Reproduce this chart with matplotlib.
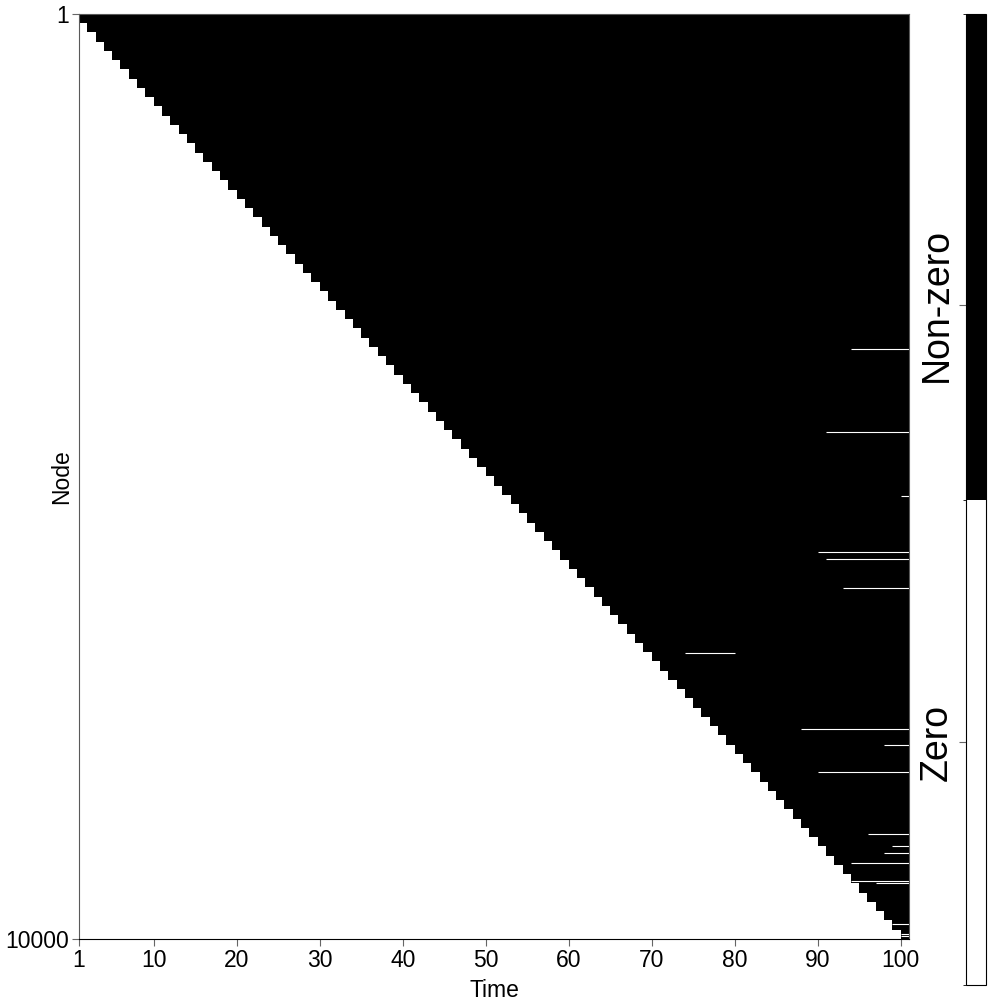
import numpy as np
import matplotlib
matplotlib.use("Agg")
import matplotlib.pyplot as plt
from matplotlib.colors import ListedColormap, BoundaryNorm
from matplotlib.cm import ScalarMappable

plt.rcParams['font.family'] = ['Liberation Sans', 'DejaVu Sans']

n_nodes = 10000
n_times = 100
nodes_per_step = 100   # nodes that switch on at each time step

# zero runs inside the non-zero region: (node, first time, last time)
zero_nodes = [3626, 4520, 5211, 5816, 5892, 6205, 6911, 7733, 7903, 8198,
              8868, 8994, 9073, 9175, 9376, 9398, 9841, 9943, 9964]
zero_start = [94, 91, 100, 90, 91, 93, 74, 88, 98, 90,
              96, 99, 98, 94, 94, 97, 99, 100, 100]
zero_end = [100, 100, 100, 100, 100, 100, 79, 100, 100, 100,
            100, 100, 100, 100, 100, 100, 100, 100, 100]

x_ticks = [1, 10, 20, 30, 40, 50, 60, 70, 80, 90, 100]
cbar_labels = ["Zero", "Non-zero"]

# state matrix: 1 = non-zero, 0 = zero
node_idx = np.arange(1, n_nodes + 1)[:, None]
time_idx = np.arange(1, n_times + 1)[None, :]
state = (node_idx <= nodes_per_step * time_idx).astype(float)
for nd, t0, t1 in zip(zero_nodes, zero_start, zero_end):
    state[nd - 1, t0 - 1:t1] = 0

cmap = ListedColormap(["white", "black"])
norm = BoundaryNorm([0, 0.5, 1], 2)

fig = plt.figure(figsize=(10, 10), dpi=100)
ax = fig.add_axes([0.079, 0.061, 0.830, 0.925])
ax.imshow(state, cmap=cmap, norm=norm, aspect="auto", interpolation="nearest",
          extent=(1, n_times + 1, n_nodes, 1))
# thin zero rows would vanish when downsampled, so draw them as lines too
ax.hlines(zero_nodes, zero_start, np.array(zero_end) + 1, colors="white", lw=0.8)

ax.set_xlim(1, n_times + 1)
ax.set_ylim(n_nodes, 1)
ax.set_xticks(x_ticks)
ax.set_yticks([1, n_nodes])
ax.tick_params(labelsize=16.5, length=5, color="0.4", pad=2)
ax.set_xlabel("Time", fontsize=16.5, labelpad=5)
ax.set_ylabel("Node", fontsize=16.5)
ax.yaxis.set_label_coords(-0.007, 0.5)
for s in ax.spines.values():
    s.set_color("0.35")
    s.set_linewidth(0.8)
ax.spines["bottom"].set_color("black")

cax = fig.add_axes([0.966, 0.015, 0.020, 0.971])
cb = fig.colorbar(ScalarMappable(norm=norm, cmap=cmap), cax=cax)
cb.set_ticks([0.25, 0.70])
cb.set_ticklabels(cbar_labels)
cax.yaxis.set_ticks_position("left")
cax.tick_params(length=5, color="0.4", pad=3, labelsize=27)
for lbl in cax.get_yticklabels():
    lbl.set_rotation(90)
    lbl.set_va("center")
cb.outline.set_linewidth(0.8)

fig.savefig("out.png", dpi=100)
